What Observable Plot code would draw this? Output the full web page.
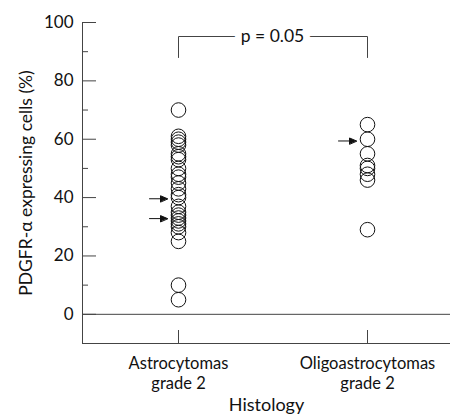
<!DOCTYPE html>
<html>
<head>
<meta charset="utf-8">
<script src="https://cdn.jsdelivr.net/npm/d3@7"></script>
<script src="https://cdn.jsdelivr.net/npm/@observablehq/plot@0.6"></script>
<style>
  body { margin: 0; background: #fff; }
  svg { font-family: Lato, "Open Sans", sans-serif; }
</style>
</head>
<body>
<div id="chart"></div>
<script>
// ---- data ----
const categories = ["Astrocytomas", "Oligoastrocytomas"];
const categoryLabels = ["Astrocytomas\ngrade 2", "Oligoastrocytomas\ngrade 2"];
const astroValues = [70, 61, 60, 59, 58, 55, 54, 53, 50, 48, 47, 45, 43, 41, 40, 37, 35, 34, 33, 32, 31, 30, 28, 25, 10, 5];
const oligoValues = [65, 60, 55, 51, 50, 48, 46, 29];
const arrowCategories = ["Astrocytomas", "Astrocytomas", "Oligoastrocytomas"];
const arrowValues = [39.6, 32.8, 59.4];
const majorTicks = [0, 20, 40, 60, 80, 100];
const minorTicks = [10, 30, 50, 70, 90];
const bracketLow = 88;
const bracketHigh = 95.2;
const pLabel = "p = 0.05";
const yLabel = "PDGFR-α expressing cells (%)";
const xLabel = "Histology";

const points = [
  ...astroValues.map(v => ({group: categories[0], value: v})),
  ...oligoValues.map(v => ({group: categories[1], value: v}))
];
const arrows = arrowCategories.map((c, i) => ({group: c, value: arrowValues[i]}));
const bracket = [
  {group: categories[0], value: bracketLow},
  {group: categories[0], value: bracketHigh},
  {group: categories[1], value: bracketHigh},
  {group: categories[1], value: bracketLow}
];

const arrowShape = {draw(ctx, l) {
  ctx.moveTo(0, 0); ctx.lineTo(0, -l + 6);
  ctx.moveTo(0, -l); ctx.lineTo(-3, -l + 7); ctx.lineTo(3, -l + 7); ctx.closePath();
}};
const axisColor = "#444";

const chart = Plot.plot({
  width: 450,
  height: 415,
  marginTop: 22,
  marginBottom: 72,
  marginLeft: 82,
  marginRight: 0,
  style: {fontFamily: "Lato, 'Open Sans', sans-serif", background: "#fff"},
  x: {type: "point", domain: categories, padding: 0, insetLeft: 96, insetRight: 83, label: null},
  y: {domain: [-10, 100], label: null},
  marks: [
    Plot.frame({anchor: "left", stroke: axisColor}),
    Plot.frame({anchor: "bottom", stroke: axisColor}),
    Plot.ruleY([0], {stroke: axisColor}),
    Plot.axisY({ticks: majorTicks, tickSize: -14, fill: "none", stroke: axisColor}),
    Plot.axisY({ticks: minorTicks, tickSize: -6, fill: "none", stroke: axisColor}),
    Plot.axisY({ticks: majorTicks, tickSize: 0, tickPadding: 9, fontSize: 17, fill: "#111", label: null}),
    Plot.axisX({tickSize: -13, fill: "none", stroke: axisColor}),
    Plot.axisX({tickSize: 0, tickPadding: 11, fontSize: 16.5, lineHeight: 1.22, fill: "#111", label: null,
      tickFormat: d => categoryLabels[categories.indexOf(d)]}),
    Plot.text([yLabel], {frameAnchor: "left", textAnchor: "middle", lineAnchor: "middle", rotate: -90, dx: -56, fontSize: 17.5, fill: "#111"}),
    Plot.text([xLabel], {frameAnchor: "bottom", textAnchor: "middle", lineAnchor: "middle", dy: 62, fontSize: 18, fill: "#111"}),
    Plot.line(bracket, {x: "group", y: "value", stroke: axisColor, strokeWidth: 1}),
    Plot.text([pLabel], {x: () => categories[0], y: () => bracketHigh, text: d => d, fontSize: 17.5, fill: "#111",
      stroke: "white", strokeWidth: 14, dx: 94}),
    Plot.dot(points, {x: "group", y: "value", r: 7.3, stroke: "#111", strokeWidth: 1, fill: "none"}),
    Plot.vector(arrows, {x: "group", y: "value", length: 18, rotate: 90, anchor: "end", dx: -11,
      shape: arrowShape, stroke: "#111", fill: "#111", strokeWidth: 1})
  ]
});
document.getElementById("chart").append(chart);
</script>
</body>
</html>
